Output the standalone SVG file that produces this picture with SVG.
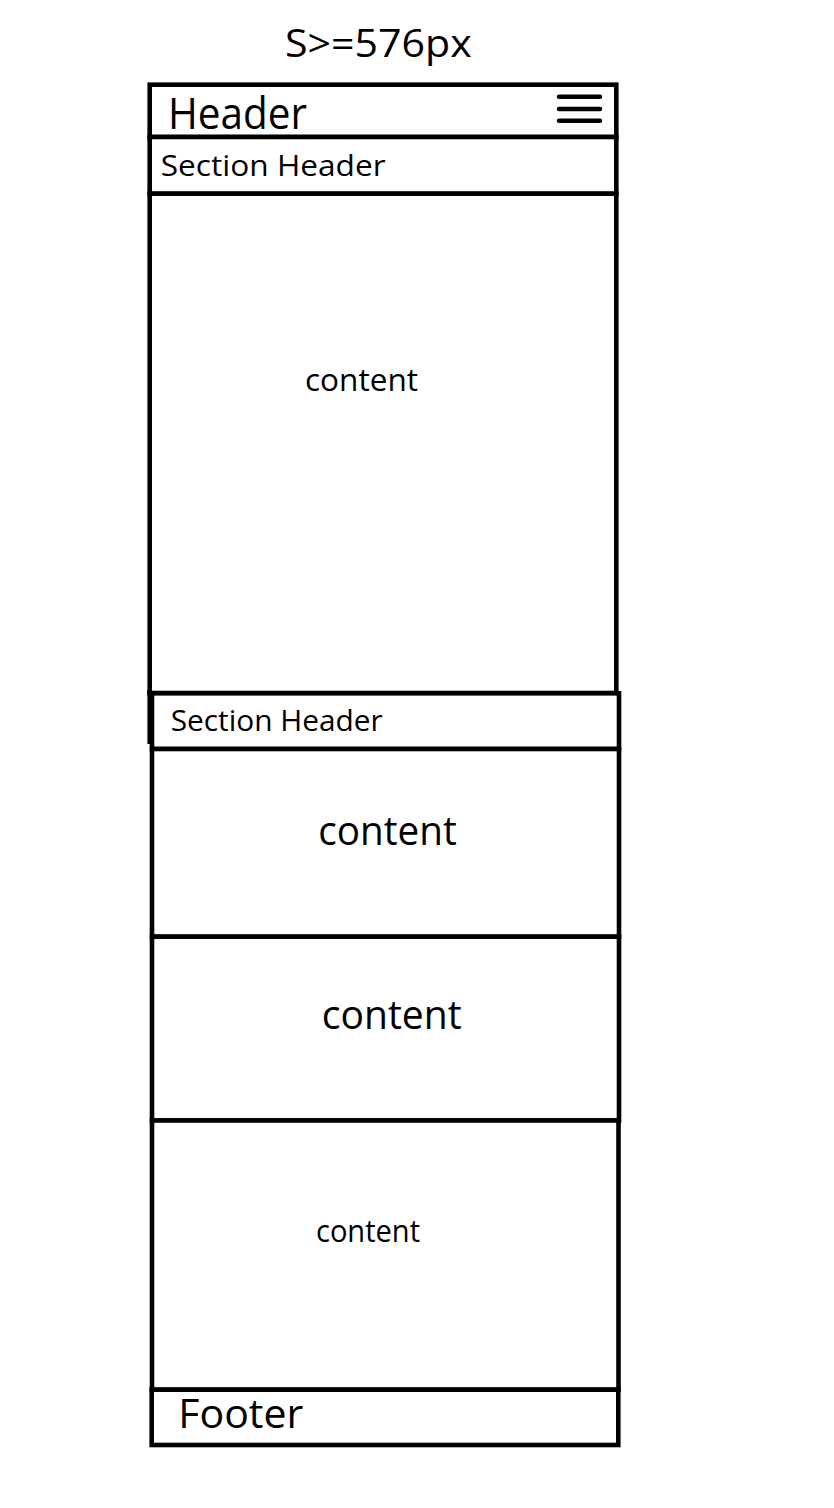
<svg xmlns="http://www.w3.org/2000/svg" width="834" height="1508" viewBox="0 0 834 1508">
<style>
.box{fill:#fff;stroke:#000;stroke-width:4.6}
.ln{stroke:#000;stroke-width:4.6;fill:none}
.ham{stroke:#000;stroke-width:4.4;stroke-linecap:round}
text{font-family:"Open Sans","Noto Sans","Liberation Sans",sans-serif;fill:#000}
</style>
<rect width="834" height="1508" fill="#fff"/>
<text id="title" x="285" y="56.7" font-size="38" textLength="186.7" lengthAdjust="spacingAndGlyphs">S&gt;=576px</text>
<g id="content1">
<rect class="box" x="149.7" y="193.5" width="466.6" height="499.5"/>
<text x="305" y="391" font-size="31" textLength="113" lengthAdjust="spacingAndGlyphs">content</text>
</g>
<g id="header">
<rect class="box" x="149.7" y="84.7" width="466.6" height="52.3"/>
<text x="168" y="129.3" font-size="43" textLength="139" lengthAdjust="spacingAndGlyphs">Header</text>
<line class="ham" x1="559" y1="96.7" x2="600" y2="96.7"/>
<line class="ham" x1="559" y1="109" x2="600" y2="109"/>
<line class="ham" x1="559" y1="120.7" x2="600" y2="120.7"/>
</g>
<g id="section-header-1">
<rect class="box" x="149.7" y="137" width="466.6" height="56.5"/>
<text x="160.7" y="176" font-size="30" textLength="225" lengthAdjust="spacingAndGlyphs">Section Header</text>
</g>
<g id="section-header-2">
<rect class="box" x="152" y="693.3" width="467" height="55.7"/>
<line class="ln" x1="147.4" y1="693.3" x2="152" y2="693.3"/>
<line class="ln" x1="149.7" y1="690" x2="149.7" y2="744"/>
<text x="170.7" y="731" font-size="30" textLength="212" lengthAdjust="spacingAndGlyphs">Section Header</text>
</g>
<g id="content2">
<rect class="box" x="152" y="749" width="467" height="187.7"/>
<text x="318.3" y="845" font-size="40.5" textLength="138.4" lengthAdjust="spacingAndGlyphs">content</text>
</g>
<g id="content3">
<rect class="box" x="152" y="936.7" width="467" height="183.8"/>
<text x="321.7" y="1029.3" font-size="41" textLength="140" lengthAdjust="spacingAndGlyphs">content</text>
</g>
<g id="content4">
<rect class="box" x="152" y="1120.5" width="466.5" height="269.2"/>
<text x="316" y="1242.3" font-size="30.5" textLength="104" lengthAdjust="spacingAndGlyphs">content</text>
</g>
<g id="footer">
<rect class="box" x="151.7" y="1389.7" width="466.6" height="55.3"/>
<text x="178.3" y="1427.7" font-size="41" textLength="125" lengthAdjust="spacingAndGlyphs">Footer</text>
</g>
<g id="connectors"></g>
</svg>
